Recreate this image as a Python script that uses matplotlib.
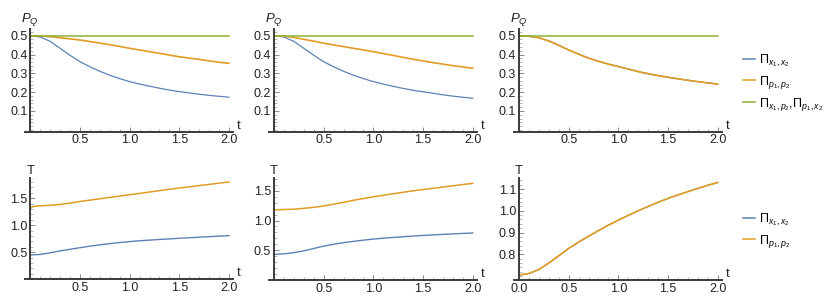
import numpy as np
import matplotlib
matplotlib.use('Agg')
import matplotlib.pyplot as plt
from matplotlib.lines import Line2D
from matplotlib.ticker import MultipleLocator, FixedLocator

plt.rcParams['font.family'] = ['Liberation Sans', 'DejaVu Sans']
plt.rcParams['mathtext.fontset'] = 'custom'
plt.rcParams['mathtext.rm'] = 'Liberation Sans'
plt.rcParams['mathtext.it'] = 'Liberation Sans:italic'
plt.rcParams['font.size'] = 9

# ===========
# Datos
# ===========
t = [0.0, 0.1, 0.2, 0.3, 0.4, 0.5, 0.6, 0.7, 0.8, 0.9, 1.0,
     1.1, 1.2, 1.3, 1.4, 1.5, 1.6, 1.7, 1.8, 1.9, 2.0]

# fila superior: P_Q
pq1_x = [0.5, 0.493, 0.47, 0.433, 0.396, 0.362, 0.335, 0.311, 0.29, 0.272, 0.256,
         0.243, 0.232, 0.221, 0.211, 0.203, 0.196, 0.189, 0.183, 0.178, 0.173]
pq1_p = [0.5, 0.499, 0.495, 0.489, 0.483, 0.477, 0.469, 0.461, 0.452, 0.443, 0.433,
         0.424, 0.415, 0.406, 0.397, 0.388, 0.381, 0.374, 0.366, 0.359, 0.353]
pq2_x = [0.5, 0.493, 0.47, 0.433, 0.396, 0.362, 0.335, 0.311, 0.29, 0.272, 0.256,
         0.243, 0.231, 0.220, 0.210, 0.202, 0.194, 0.186, 0.179, 0.173, 0.168]
pq2_p = [0.5, 0.498, 0.491, 0.481, 0.471, 0.46, 0.451, 0.442, 0.433, 0.424, 0.415,
         0.405, 0.395, 0.385, 0.375, 0.366, 0.357, 0.349, 0.341, 0.334, 0.327]
pq3_x = [0.5, 0.497, 0.489, 0.472, 0.449, 0.424, 0.402, 0.381, 0.364, 0.349, 0.336,
         0.323, 0.309, 0.298, 0.288, 0.279, 0.271, 0.263, 0.256, 0.249, 0.243]
pq3_p = pq3_x
pq_mix = [0.5] * len(t)

# fila inferior: T
t1_x = [0.45, 0.46, 0.49, 0.525, 0.555, 0.585, 0.613, 0.638, 0.66, 0.68, 0.698,
        0.713, 0.725, 0.737, 0.748, 0.759, 0.769, 0.779, 0.789, 0.799, 0.808]
t1_p_t = [0.0, 0.03] + t[1:]
t1_p = [1.31, 1.35, 1.36, 1.37, 1.385, 1.41, 1.44, 1.465, 1.49, 1.515, 1.54, 1.565,
        1.59, 1.615, 1.64, 1.665, 1.69, 1.71, 1.735, 1.755, 1.78, 1.80]
t2_x = [0.43, 0.44, 0.46, 0.49, 0.53, 0.57, 0.60, 0.627, 0.65, 0.67, 0.688,
        0.703, 0.716, 0.728, 0.739, 0.749, 0.758, 0.767, 0.775, 0.783, 0.79]
t2_p = [1.18, 1.185, 1.19, 1.205, 1.222, 1.245, 1.275, 1.305, 1.34, 1.37, 1.40,
        1.425, 1.45, 1.475, 1.50, 1.52, 1.542, 1.563, 1.584, 1.605, 1.625]
t3_x = [0.705, 0.712, 0.73, 0.76, 0.793, 0.827, 0.856, 0.883, 0.909, 0.934, 0.957,
        0.979, 1.0, 1.02, 1.039, 1.057, 1.073, 1.088, 1.103, 1.117, 1.13]
t3_p = t3_x

blue = '#5E81B5'
orange = '#E19C24'
green = '#8FB032'
axcol = '#3a3a3a'

W, H = 830, 308
fig = plt.figure(figsize=(W / 100, H / 100), dpi=100)

lefts = [25.3, 269.0, 514.0]
width = 207.7


def make_ax(left, top, bottom):
    ax = fig.add_axes([left / W, 1 - bottom / H, width / W, (bottom - top) / H])
    ax.set_facecolor('none')
    for s in ['top', 'right']:
        ax.spines[s].set_visible(False)
    ax.spines['left'].set_position(('data', 0))
    for s in ['left', 'bottom']:
        ax.spines[s].set_color(axcol)
        ax.spines[s].set_linewidth(1.4)
    ax.tick_params(direction='in', length=3.5, width=0.6, color='#777777',
                   labelcolor='#222222', labelsize=9, pad=2)
    ax.tick_params(which='minor', direction='in', length=2, width=0.5, color='#999999')
    ax.set_xlim(-0.05, 2.04)
    ax.xaxis.set_minor_locator(MultipleLocator(0.1))
    return ax


def etiquetas(ax, ylab, xt):
    ax.text(0, 1.01, ylab, transform=ax.get_xaxis_transform(), ha='center', va='bottom',
            fontsize=9.5, color='#222222')
    ax.text(2.08, 0.06, 't', transform=ax.get_xaxis_transform(), ha='left', va='center',
            fontsize=9.5, color='#222222')
    ax.xaxis.set_major_locator(FixedLocator(xt))
    ax.set_xticklabels(['%.1f' % v for v in xt])


# ----- fila superior -----
top_data = [(pq1_x, pq1_p), (pq2_x, pq2_p), (pq3_x, pq3_p)]
for left, (bx, op) in zip(lefts, top_data):
    ax = make_ax(left, 29.1, 131.7)
    ax.plot(t, bx, color=blue, lw=0.9)
    ax.plot(t, op, color=orange, lw=1.2)
    ax.plot(t, pq_mix, color=green, lw=1.1)
    ax.set_ylim(-0.01, 0.535)
    ax.yaxis.set_major_locator(FixedLocator([0.1, 0.2, 0.3, 0.4, 0.5]))
    ax.set_yticklabels(['0.1', '0.2', '0.3', '0.4', '0.5'])
    ax.yaxis.set_minor_locator(MultipleLocator(0.02))
    etiquetas(ax, r'$P_Q$', [0.5, 1.0, 1.5, 2.0])

# ----- fila inferior -----
ax = make_ax(lefts[0], 177.7, 279.3)
ax.plot(t, t1_x, color=blue, lw=1.0)
ax.plot(t1_p_t, t1_p, color=orange, lw=1.1)
ax.set_ylim(0, 1.88)
ax.yaxis.set_major_locator(FixedLocator([0.5, 1.0, 1.5]))
ax.yaxis.set_minor_locator(MultipleLocator(0.1))
etiquetas(ax, 'T', [0.5, 1.0, 1.5, 2.0])

ax = make_ax(lefts[1], 178.3, 280.0)
ax.plot(t, t2_x, color=blue, lw=1.0)
ax.plot(t, t2_p, color=orange, lw=1.1)
ax.set_ylim(0, 1.71)
ax.yaxis.set_major_locator(FixedLocator([0.5, 1.0, 1.5]))
ax.yaxis.set_minor_locator(MultipleLocator(0.1))
etiquetas(ax, 'T', [0.5, 1.0, 1.5, 2.0])

ax = make_ax(lefts[2], 177.7, 280.0)
ax.plot(t, t3_x, color=blue, lw=0.8)
ax.plot(t, t3_p, color=orange, lw=1.2)
ax.set_ylim(0.682, 1.152)
ax.yaxis.set_major_locator(FixedLocator([0.8, 0.9, 1.0, 1.1]))
ax.yaxis.set_minor_locator(MultipleLocator(0.02))
etiquetas(ax, 'T', [0.0, 0.5, 1.0, 1.5, 2.0])

# ----- leyendas -----
lab_x = r'$\Pi_{x_1,x_2}$'
lab_p = r'$\Pi_{p_1,p_2}$'
lab_m = r'$\Pi_{x_1,p_2}$,$\Pi_{p_1,x_2}$'
h_top = [Line2D([], [], color=c, lw=1.1) for c in (blue, orange, green)]
fig.legend(h_top, [lab_x, lab_p, lab_m], loc='upper left',
           bbox_to_anchor=(743 / W, 1 - 52 / H), frameon=False, fontsize=9,
           handlelength=0.95, handletextpad=0.35, labelspacing=0.4,
           borderpad=0, borderaxespad=0)
fig.legend(h_top[:2], [lab_x, lab_p], loc='upper left',
           bbox_to_anchor=(743 / W, 1 - 211 / H), frameon=False, fontsize=9,
           handlelength=0.95, handletextpad=0.35, labelspacing=0.4,
           borderpad=0, borderaxespad=0)

fig.savefig('out.png', dpi=100)
